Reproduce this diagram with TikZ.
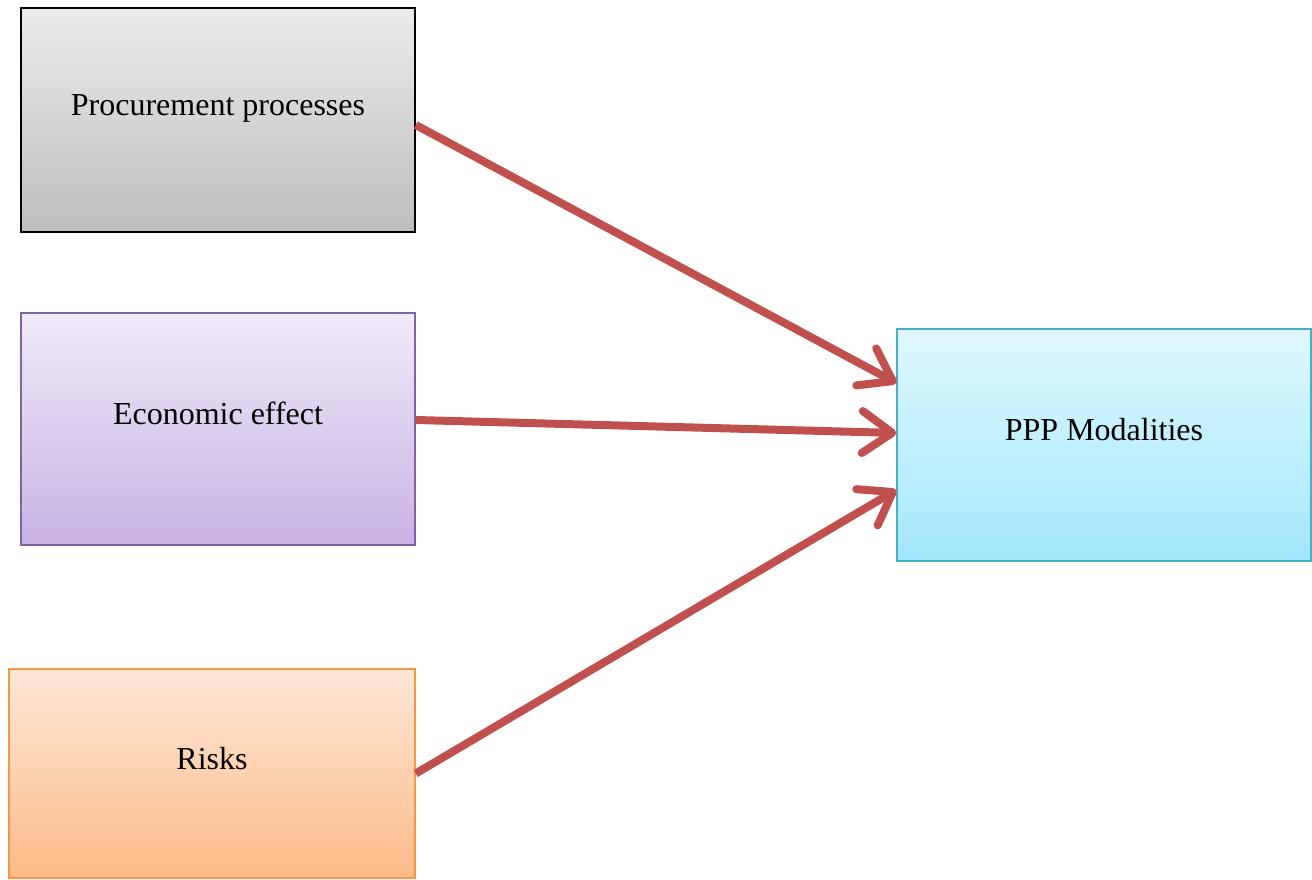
\documentclass[tikz,border=0pt]{standalone}
\usepackage{fontspec}
\setmainfont{Liberation Serif}
\usetikzlibrary{positioning,arrows.meta}
\definecolor{arrowred}{HTML}{C0504D}
\definecolor{grayTop}{HTML}{EBEBEB}
\definecolor{grayBot}{HTML}{BEBEBE}
\definecolor{purpleline}{HTML}{8064A2}
\definecolor{purpleTop}{HTML}{F0EAF8}
\definecolor{purpleBot}{HTML}{C8B3E4}
\definecolor{orangeline}{HTML}{F79646}
\definecolor{orangeTop}{HTML}{FEE7D7}
\definecolor{orangeBot}{HTML}{FCBB88}
\definecolor{cyanline}{HTML}{4BACC6}
\definecolor{cyanTop}{HTML}{E0F8FE}
\definecolor{cyanBot}{HTML}{A2E8FC}

\begin{document}
\begin{tikzpicture}[x=1pt, y=1pt, >={Straight Barb[length=30pt, width=42pt, round]},
  every node/.style={font=\fontsize{32}{38}\selectfont}]
  % shaded boxes, text sits a bit above the middle
  \tikzset{block/.style={draw, line width=1.5pt, minimum width=394pt, minimum height=224pt,
      align=center, text height=22pt, text depth=30pt},
    link/.style={->, draw=arrowred, line width=8pt}}
  \useasboundingbox (0,0) rectangle (1312,880);

  % input boxes on the left, target box on the right
  \node[block, top color=grayTop, bottom color=grayBot] (proc) at (218,760) {Procurement processes};
  \node[block, minimum height=232pt, draw=purpleline, top color=purpleTop, bottom color=purpleBot] (econ) at (218,451) {Economic effect};
  \node[block, minimum width=406pt, minimum height=209pt, draw=orangeline, top color=orangeTop, bottom color=orangeBot] (risk) at (212,106.5) {Risks};
  \node[block, minimum width=414pt, minimum height=232pt, draw=cyanline, top color=cyanTop, bottom color=cyanBot] (ppp) at (1104,435) {PPP Modalities};

  % arrows into the modalities box
  \draw[link] ([yshift=-5pt]proc.east) -- ([yshift=62pt]ppp.west);
  \draw[link] ([yshift=9pt]econ.east) -- ([yshift=12pt]ppp.west);
  \draw[link] (risk.east) -- ([yshift=-45pt]ppp.west);
\end{tikzpicture}
\end{document}
